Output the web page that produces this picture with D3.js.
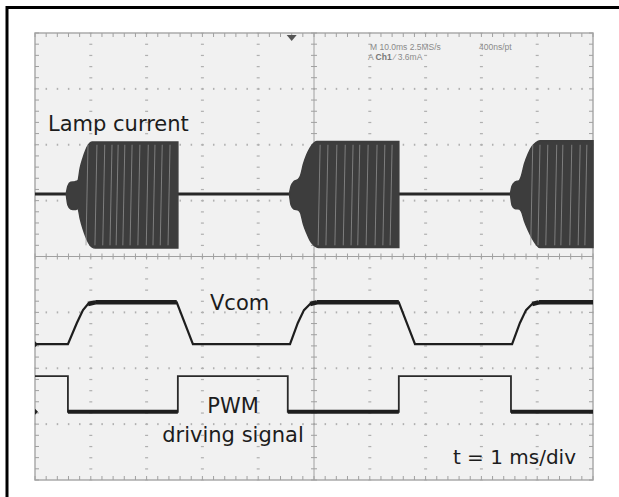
<!DOCTYPE html>
<html>
<head>
<meta charset="utf-8">
<script src="https://cdn.jsdelivr.net/npm/d3@7"></script>
<style>
  body { margin: 0; background: #fff; }
  svg { display: block; }
</style>
</head>
<body>
<svg id="chart" width="619" height="497"></svg>
<script>
// time in ms (0..10, 1 ms/div), amplitude in screen divisions (-4..4)
const lampBase = [[0, 1.12], [10, 1.12]];

// burst envelopes: [t, top, bottom]
const burst1 = [[0.56, 1.12, 1.12], [0.59, 1.26, 0.92], [0.64, 1.33, 0.85], [0.72, 1.34, 0.84], [0.77, 1.36, 0.86],
  [0.81, 1.58, 0.68], [0.86, 1.76, 0.50], [0.91, 1.90, 0.36], [0.96, 2.00, 0.25], [1.02, 2.05, 0.17],
  [1.08, 2.05, 0.15], [2.56, 2.05, 0.15], [2.56, 1.12, 1.12]];
const burst2 = [[4.56, 1.12, 1.12], [4.59, 1.26, 0.92], [4.64, 1.34, 0.85], [4.72, 1.38, 0.83], [4.76, 1.45, 0.78],
  [4.81, 1.65, 0.58], [4.87, 1.82, 0.42], [4.93, 1.94, 0.29], [4.99, 2.02, 0.21], [5.05, 2.06, 0.17],
  [5.10, 2.06, 0.16], [6.52, 2.06, 0.16], [6.52, 1.12, 1.12]];
const burst3 = [[8.52, 1.12, 1.12], [8.55, 1.26, 0.92], [8.60, 1.33, 0.86], [8.68, 1.36, 0.85], [8.72, 1.45, 0.80],
  [8.77, 1.65, 0.64], [8.84, 1.84, 0.47], [8.91, 1.97, 0.33], [8.98, 2.04, 0.22], [9.05, 2.07, 0.16],
  [10, 2.07, 0.16]];

// light streaks inside the bursts (aliasing of the lamp carrier)
const streaks = [0.95, 1.11, 1.25, 1.38, 1.49, 1.61, 1.74, 1.88, 2.03, 2.15, 2.28, 2.42,
  5.11, 5.25, 5.41, 5.56, 5.70, 5.82, 5.97, 6.13, 6.27, 6.40,
  8.92, 9.05, 9.19, 9.35, 9.46, 9.62, 9.77, 9.89];

const vcomT = [0, 0.59, 0.75, 0.86, 0.95, 1.08, 2.54, 2.83, 4.57, 4.71, 4.82, 4.93, 5.05, 6.52, 6.81, 8.55, 8.69, 8.80, 8.91, 9.03, 10];
const vcomV = [-1.57, -1.57, -1.19, -0.96, -0.85, -0.82, -0.82, -1.57, -1.57, -1.19, -0.96, -0.85, -0.82, -0.82, -1.57, -1.57, -1.19, -0.96, -0.85, -0.82, -0.82];

const pwmT = [0, 0.59, 0.59, 2.56, 2.56, 4.53, 4.53, 6.52, 6.52, 8.53, 8.53, 10];
const pwmV = [-2.14, -2.14, -2.78, -2.78, -2.14, -2.14, -2.78, -2.78, -2.14, -2.14, -2.78, -2.78];

const readout1 = ['M 10.0ms 2.5MS/s', '400ns/pt'];
const readout2 = ['A', 'Ch1', '\u2215 3.6mA'];

const svg = d3.select('#chart');
const width = +svg.attr('width');
const height = +svg.attr('height');

// page frame (table cell borders)
svg.append('line').attr('x1', 7).attr('x2', 7).attr('y1', 6).attr('y2', height)
  .attr('stroke', '#000').attr('stroke-width', 3);
svg.append('line').attr('x1', 6).attr('x2', width).attr('y1', 7.5).attr('y2', 7.5)
  .attr('stroke', '#000').attr('stroke-width', 3);

const x = d3.scaleLinear().domain([0, 10]).range([35, 593]);
const y = d3.scaleLinear().domain([-4, 4]).range([480, 33]);

// screen
svg.append('rect')
  .attr('x', x(0)).attr('y', y(4))
  .attr('width', x(10) - x(0)).attr('height', y(-4) - y(4))
  .attr('fill', '#f1f1f1')
  .attr('stroke', '#aaa').attr('stroke-width', 1.5);

const grid = svg.append('g').attr('fill', '#b0b0b0');
const minorX = d3.range(0, 50.01).map((i) => i * 0.2);
const minorY = d3.range(0, 40.01).map((i) => -4 + i * 0.2);

// dotted graticule
d3.range(1, 10).filter((d) => d !== 5).forEach((d) => {
  grid.selectAll(null).data(minorY).enter().append('rect')
    .attr('x', x(d) - 1.5).attr('y', (v) => y(v) - 0.5).attr('width', 3).attr('height', 1.2);
});
d3.range(-3, 4).filter((d) => d !== 0).forEach((d) => {
  grid.selectAll(null).data(minorX).enter().append('rect')
    .attr('x', (v) => x(v) - 0.6).attr('y', y(d) - 1).attr('width', 1.5).attr('height', 2);
});

// centre cross with minor ticks
const cross = svg.append('g').attr('stroke', '#a0a0a0').attr('stroke-width', 1);
cross.append('line').attr('x1', x(0)).attr('x2', x(10)).attr('y1', y(0)).attr('y2', y(0));
cross.append('line').attr('x1', x(5)).attr('x2', x(5)).attr('y1', y(4)).attr('y2', y(-4));
cross.selectAll(null).data(minorX).enter().append('line')
  .attr('x1', (v) => x(v)).attr('x2', (v) => x(v)).attr('y1', y(0) - 3).attr('y2', y(0) + 3);
cross.selectAll(null).data(minorY).enter().append('line')
  .attr('x1', x(5) - 3).attr('x2', x(5) + 3).attr('y1', (v) => y(v)).attr('y2', (v) => y(v));

// ticks on the screen border
cross.selectAll(null).data(minorX).enter().append('line')
  .attr('x1', (v) => x(v)).attr('x2', (v) => x(v)).attr('y1', y(4)).attr('y2', y(4) + 4);
cross.selectAll(null).data(minorX).enter().append('line')
  .attr('x1', (v) => x(v)).attr('x2', (v) => x(v)).attr('y1', y(-4)).attr('y2', y(-4) - 4);
cross.selectAll(null).data(minorY).enter().append('line')
  .attr('x1', x(0)).attr('x2', x(0) + 4).attr('y1', (v) => y(v)).attr('y2', (v) => y(v));
cross.selectAll(null).data(minorY).enter().append('line')
  .attr('x1', x(10)).attr('x2', x(10) - 4).attr('y1', (v) => y(v)).attr('y2', (v) => y(v));

// trigger marker
svg.append('path')
  .attr('d', `M${x(4.6) - 5},${y(4) + 2}L${x(4.6) + 5},${y(4) + 2}L${x(4.6)},${y(4) + 8}Z`)
  .attr('fill', '#555');

// readout
const ro = svg.append('g').attr('font-family', 'Liberation Sans, Arial, sans-serif')
  .attr('font-size', 8.5).attr('fill', '#8a8a8a');
ro.append('text').attr('x', 370).attr('y', 50).text(readout1[0]);
ro.append('text').attr('x', 479).attr('y', 50).text(readout1[1]);
const r2 = ro.append('text').attr('x', 368).attr('y', 60);
r2.append('tspan').text(readout2[0] + ' ');
r2.append('tspan').attr('font-weight', 'bold').attr('fill', '#777').text(readout2[1]);
r2.append('tspan').text('  ' + readout2[2]);

// lamp current
const line = d3.line().x((d) => x(d[0])).y((d) => y(d[1]));
svg.append('path').attr('d', line(lampBase))
  .attr('fill', 'none').attr('stroke', '#262626').attr('stroke-width', 3);

const envelope = d3.area()
  .x((d) => x(d[0]))
  .y0((d) => y(d[2]))
  .y1((d) => y(d[1]))
  .curve(d3.curveMonotoneX);

[burst1, burst2, burst3].forEach((b) => {
  svg.append('path').attr('d', envelope(b))
    .attr('fill', '#3d3d3d').attr('stroke', '#3d3d3d').attr('stroke-width', 1.5);
});

svg.append('g').selectAll('line').data(streaks).enter().append('line')
  .attr('x1', (t) => x(t)).attr('x2', (t) => x(t) - 2)
  .attr('y1', y(2.0)).attr('y2', y(0.2))
  .attr('stroke', '#949494').attr('stroke-width', 1).attr('opacity', 0.75);

// Vcom
const vcom = vcomT.map((t, i) => [t, vcomV[i]]);
svg.append('path').attr('d', line(vcom))
  .attr('fill', 'none').attr('stroke', '#1e1e1e').attr('stroke-width', 2.2);
// the high plateau is noisier, draw it thicker
for (let i = 0; i < vcom.length - 1; i++) {
  if (vcom[i][1] > -0.9 && vcom[i + 1][1] > -0.9) {
    svg.append('path').attr('d', line([vcom[i], vcom[i + 1]]))
      .attr('stroke', '#1e1e1e').attr('stroke-width', 4.5);
  }
}

// PWM
const pwm = pwmT.map((t, i) => [t, pwmV[i]]);
svg.append('path').attr('d', line(pwm))
  .attr('fill', 'none').attr('stroke', '#2a2a2a').attr('stroke-width', 1.8);
for (let i = 0; i < pwm.length - 1; i++) {
  if (pwm[i][1] < -2.5 && pwm[i + 1][1] < -2.5) {
    svg.append('path').attr('d', line([pwm[i], pwm[i + 1]]))
      .attr('stroke', '#1e1e1e').attr('stroke-width', 4);
  }
}

// channel markers
[[-1.57], [-2.78]].forEach((d) => {
  svg.append('path')
    .attr('d', `M${x(0)},${y(d[0]) - 3}L${x(0) + 3},${y(d[0])}L${x(0)},${y(d[0]) + 3}Z`)
    .attr('fill', '#222');
});

// labels
const labels = svg.append('g')
  .attr('font-family', 'DejaVu Sans ExtraLight, DejaVu Sans, sans-serif')
  .attr('fill', '#1c1c1c');
labels.append('text').attr('x', 48).attr('y', 131).attr('font-size', 21).text('Lamp current');
labels.append('text').attr('x', 210).attr('y', 310).attr('font-size', 21).text('Vcom');
labels.append('text').attr('x', 233).attr('y', 413).attr('font-size', 21)
  .attr('text-anchor', 'middle').text('PWM');
labels.append('text').attr('x', 233).attr('y', 442).attr('font-size', 21)
  .attr('text-anchor', 'middle').text('driving signal');
labels.append('text').attr('x', 576).attr('y', 464).attr('font-size', 20)
  .attr('text-anchor', 'end').text('t = 1 ms/div');
</script>
</body>
</html>
